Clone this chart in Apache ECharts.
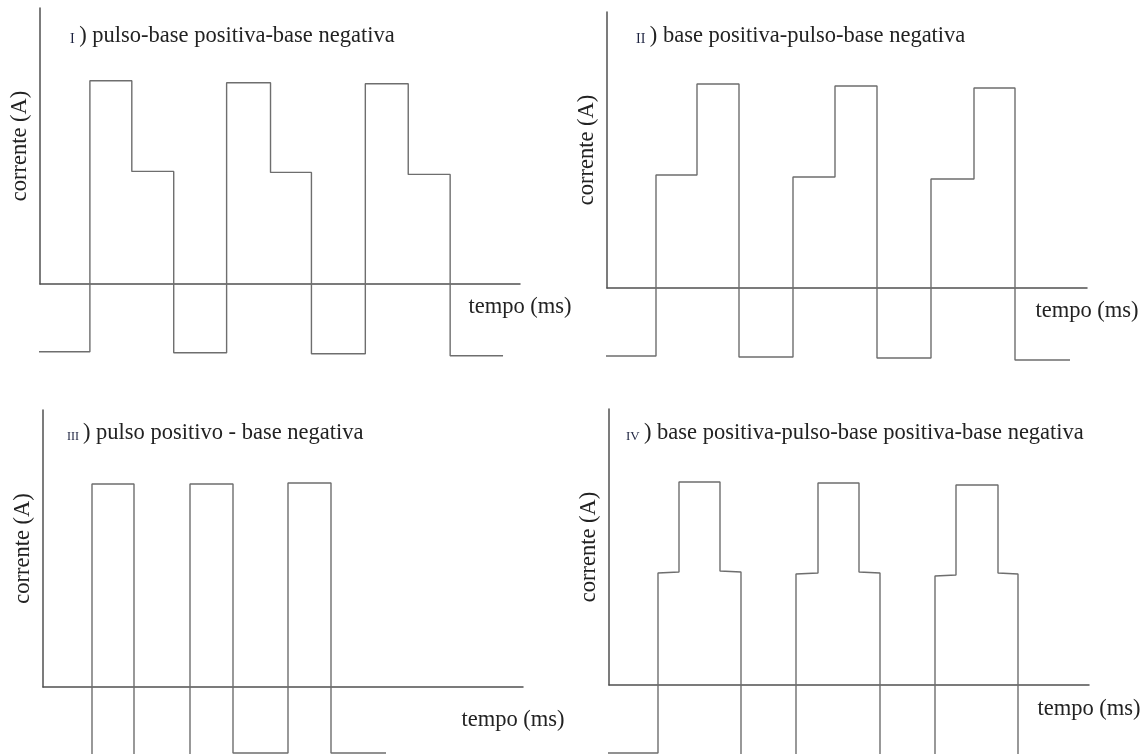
<!DOCTYPE html>
<html><head><meta charset="utf-8">
<script src="https://cdn.jsdelivr.net/npm/echarts@6/dist/echarts.min.js"></script>
<style>html,body{margin:0;padding:0;background:#fff}#c{width:1147px;height:754px}</style>
</head><body><div id="c"></div>
<script>
// ---- texts ----
const numerals = ['I', 'II', 'III', 'IV'];
const panelTitles = [
  ') pulso-base positiva-base negativa',
  ') base positiva-pulso-base negativa',
  ') pulso positivo - base negativa',
  ') base positiva-pulso-base positiva-base negativa'
];
const xAxisName = 'tempo (ms)';
const yAxisName = 'corrente (A)';

// ---- Panel I : pulso-base positiva-base negativa ----
const timeI    = [-0.5, 5.0, 5.0, 9.2, 9.2, 13.4, 13.4, 18.7, 18.7, 23.1, 23.1, 27.2, 27.2, 32.6, 32.6, 36.9, 36.9, 41.1, 41.1, 46.4];
const currentI = [-6.8, -6.8, 20.4, 20.4, 11.3, 11.3, -6.9, -6.9, 20.2, 20.2, 11.2, 11.2, -7.0, -7.0, 20.1, 20.1, 11.0, 11.0, -7.2, -7.2];

// ---- Panel II : base positiva-pulso-base negativa ----
const timeII    = [-0.6, 4.9, 4.9, 9.0, 9.0, 13.2, 13.2, 18.6, 18.6, 22.8, 22.8, 27.0, 27.0, 32.4, 32.4, 36.7, 36.7, 40.8, 40.8, 46.3];
const currentII = [-6.8, -6.8, 11.3, 11.3, 20.4, 20.4, -6.9, -6.9, 11.1, 11.1, 20.2, 20.2, -7.0, -7.0, 10.9, 10.9, 20.0, 20.0, -7.2, -7.2];

// ---- Panel III : pulso positivo - base negativa ----
const timeIII    = [-0.6, 4.9, 4.9, 9.1, 9.1, 14.7, 14.7, 19.0, 19.0, 24.5, 24.5, 28.8, 28.8, 34.3];
const currentIII = [-7.3, -7.3, 20.3, 20.3, -7.3, -7.3, 20.3, 20.3, -6.6, -6.6, 20.4, 20.4, -6.6, -6.6];

// ---- Panel IV : base positiva-pulso-base positiva-base negativa ----
const timeIV    = [-0.5, 4.9, 4.9, 7.0, 7.0, 11.1, 11.1, 13.2, 13.2, 18.7, 18.7, 20.9, 20.9, 25.0, 25.0, 27.1, 27.1, 32.6, 32.6, 34.7, 34.7, 38.9, 38.9, 40.9, 40.9, 46.4];
const currentIV = [-6.8, -6.8, 11.2, 11.3, 20.3, 20.3, 11.4, 11.3, -7.5, -7.5, 11.1, 11.2, 20.2, 20.2, 11.3, 11.2, -7.5, -7.5, 10.9, 11.0, 20.0, 20.0, 11.2, 11.1, -7.5, -7.5];

// ---- axis ranges ----
const xMax = [48.1, 48.0, 48.0, 48.0];
const yMax = [27.7, 27.6, 27.7, 27.6];

const series = [[timeI, currentI], [timeII, currentII], [timeIII, currentIII], [timeIV, currentIV]];
const grids = [
  { left: 40,  top: 8,   width: 480, height: 276 },
  { left: 607, top: 12,  width: 480, height: 276 },
  { left: 43,  top: 410, width: 480, height: 277 },
  { left: 609, top: 409, width: 480, height: 276 }
];
const titlePos = [
  { left: 70,  top: 23 },
  { left: 636, top: 23 },
  { left: 67,  top: 420 },
  { left: 626, top: 420 }
];
const numeralSize = [14, 14, 12, 13];
const xNamePad = [[12, 0, 0, 0], [12, 0, 0, 0], [22, 20, 0, 0], [13, 0, 0, 0]];

const FONT = '"Liberation Serif", "DejaVu Serif", serif';
const FS = 22.5;
const TEXT = '#222';
const AXIS = '#505050';
const WAVE = '#6e6e6e';

const option = {
  backgroundColor: '#fff',
  animation: false,
  title: panelTitles.map((t, i) => ({
    text: '{n|' + numerals[i] + ' }{t|' + t + '}',
    left: titlePos[i].left,
    top: titlePos[i].top,
    padding: 0,
    textStyle: {
      fontWeight: 'normal',
      rich: {
        n: { fontSize: numeralSize[i], fontFamily: FONT, fontWeight: 'normal', color: '#1d2340', lineHeight: 26, verticalAlign: 'bottom', padding: [0, 1, 3, 0] },
        t: { fontSize: FS, fontFamily: FONT, fontWeight: 'normal', color: TEXT, lineHeight: 26 }
      }
    }
  })),
  grid: grids.map(g => Object.assign({ outerBoundsMode: 'none', containLabel: false }, g)),
  xAxis: grids.map((g, i) => ({
    type: 'value', gridIndex: i, min: 0, max: xMax[i],
    name: xAxisName, nameLocation: 'end', nameGap: 0,
    nameTextStyle: { fontSize: FS, fontFamily: FONT, color: TEXT, align: 'center', verticalAlign: 'top', padding: xNamePad[i] },
    axisLine: { show: true, onZero: false, lineStyle: { color: AXIS, width: 1.5 } },
    axisTick: { show: false }, axisLabel: { show: false }, splitLine: { show: false }
  })),
  yAxis: grids.map((g, i) => ({
    type: 'value', gridIndex: i, min: 0, max: yMax[i],
    name: yAxisName, nameLocation: 'middle', nameGap: 8, nameRotate: 90,
    nameTextStyle: { fontSize: FS, fontFamily: FONT, color: TEXT },
    axisLine: { show: true, onZero: false, lineStyle: { color: AXIS, width: 1.5 } },
    axisTick: { show: false }, axisLabel: { show: false }, splitLine: { show: false }
  })),
  series: series.map((s, i) => ({
    type: 'line', xAxisIndex: i, yAxisIndex: i,
    data: s[0].map((t, k) => [t, s[1][k]]),
    symbol: 'none', clip: false, silent: true,
    lineStyle: { color: WAVE, width: 1.4 }
  }))
};

const chart = echarts.init(document.getElementById('c'), null, { renderer: 'canvas' });
chart.setOption(option);
</script>
</body></html>
